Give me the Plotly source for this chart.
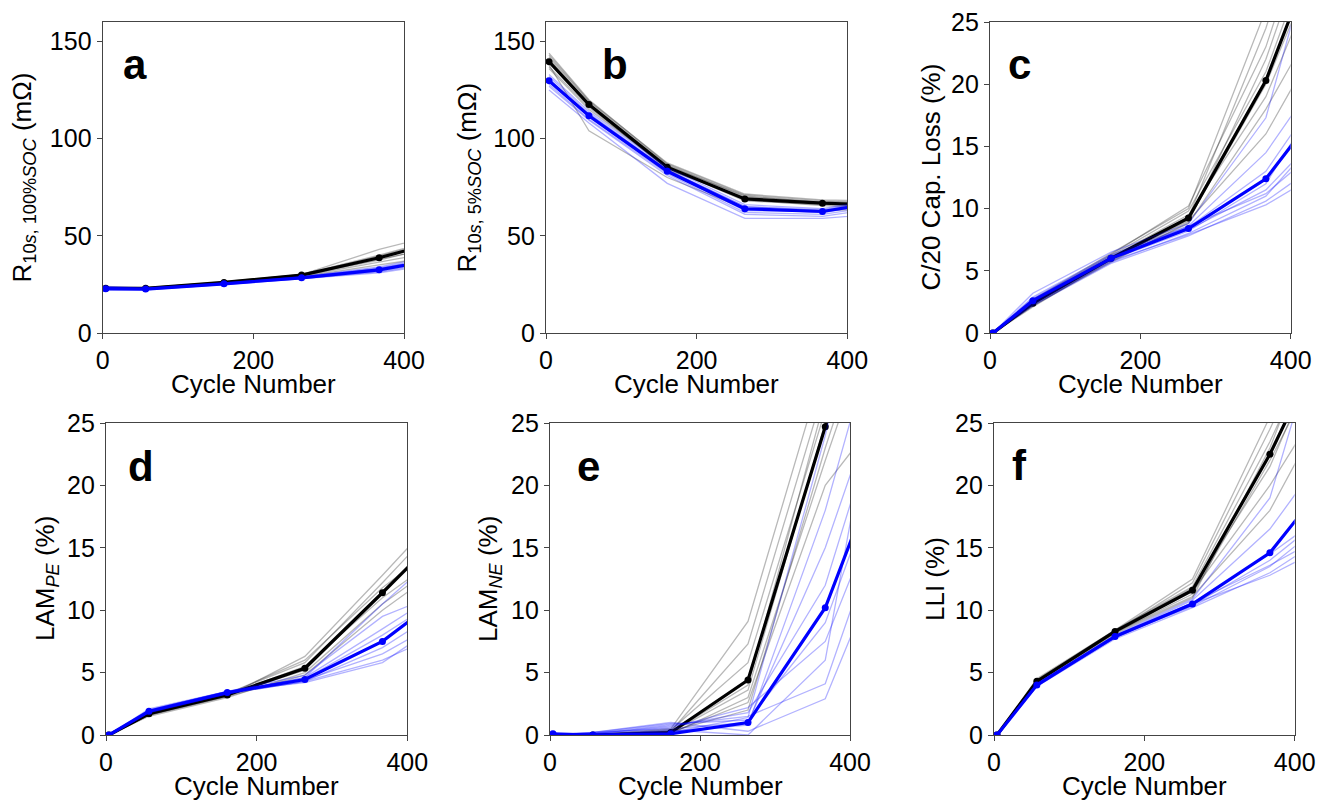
import plotly.graph_objects as go

W, H = 1319, 801
BODY_OFFSET = 0  # page margin removed in post_script below

# ---------------- data ----------------
cycles = [4, 57, 161, 264, 367, 470]

# panel a: R10s, 100% SOC (mOhm)
a_black_mean = [23.0, 23.0, 26.0, 29.8, 38.7, 49.3]
a_blue_mean = [22.8, 22.6, 25.3, 28.4, 32.5, 39.7]
a_black_cells = [
    [23.6, 23.3, 26.2, 30.0, 43.0, 53.0],
    [22.5, 22.8, 25.8, 29.5, 37.5, 47.0],
    [23.2, 23.0, 26.1, 29.9, 39.5, 50.5],
    [22.9, 22.7, 25.9, 29.6, 38.0, 46.0],
    [23.4, 23.1, 26.4, 30.2, 40.0, 51.0],
    [22.7, 22.9, 25.7, 29.3, 36.5, 43.5],
    [23.1, 23.3, 26.0, 29.8, 38.8, 48.5],
    [22.6, 22.6, 25.6, 29.0, 35.0, 41.0],
]
a_blue_cells = [
    [23.8, 23.0, 25.6, 28.8, 33.5, 41.0],
    [22.0, 22.2, 25.0, 28.0, 31.5, 38.0],
    [23.2, 22.8, 25.4, 28.5, 33.0, 40.5],
    [22.5, 22.4, 25.1, 28.2, 32.0, 38.5],
    [24.0, 23.2, 25.8, 29.0, 34.0, 42.0],
    [22.3, 22.3, 24.9, 27.9, 31.0, 37.0],
    [23.0, 22.7, 25.3, 28.4, 32.8, 39.5],
    [22.8, 22.5, 25.2, 28.6, 33.2, 40.0],
]

# panel b: R10s, 5% SOC (mOhm)
b_black_mean = [139.6, 117.5, 85.3, 69.0, 66.8, 65.5]
b_blue_mean = [129.8, 111.8, 83.2, 63.9, 62.5, 69.0]
b_black_cells = [
    [144, 120, 87, 71, 68, 66],
    [142, 119, 86.5, 70, 67.5, 67],
    [138, 104, 80, 64, 63, 64],
    [141, 118, 86, 70.5, 67, 66.5],
    [137, 116, 85, 68, 66, 65],
    [140, 117, 84, 69.5, 66.5, 66],
    [136, 115, 85.5, 68.5, 65.5, 64],
    [143, 119.5, 87.5, 71.5, 68.5, 67.5],
]
b_blue_cells = [
    [125, 108, 77, 59, 59, 62],
    [132, 113, 84, 65, 63, 70],
    [130, 112, 83.5, 64, 62, 68],
    [128, 110, 82, 62, 61, 67],
    [133, 114, 85, 66, 64, 71],
    [131, 111, 83, 63, 62.5, 69],
    [127, 109.5, 81, 61, 60, 66],
    [129, 112.5, 84, 65, 63.5, 70.5],
]

# panel c: C/20 capacity loss (%)
c_black_mean = [0, 2.4, 6.0, 9.25, 20.3, 36.5]
c_blue_mean = [0, 2.6, 6.0, 8.4, 12.4, 20.5]
c_black_cells = [
    [0, 2.1, 5.9, 9.0, 16.0, 27.0],
    [0, 2.2, 5.8, 8.8, 18.0, 29.0],
    [0, 2.3, 6.1, 9.5, 19.0, 34.0],
    [0, 2.5, 6.2, 9.8, 21.0, 38.0],
    [0, 2.6, 6.3, 10.2, 23.0, 42.0],
    [0, 2.3, 6.0, 9.3, 24.5, 44.0],
    [0, 2.4, 5.9, 9.1, 20.0, 35.0],
    [0, 2.7, 6.4, 10.0, 26.0, 46.0],
    [0, 2.2, 5.7, 8.9, 22.0, 40.0],
]
c_blue_cells = [
    [0, 3.2, 6.5, 8.8, 17.3, 40.0],
    [0, 2.9, 6.3, 8.6, 14.5, 23.5],
    [0, 2.8, 6.2, 8.5, 13.0, 22.0],
    [0, 2.5, 5.9, 8.2, 12.0, 22.0],
    [0, 2.3, 5.7, 8.0, 11.0, 18.0],
    [0, 2.7, 6.1, 8.3, 11.5, 18.0],
    [0, 2.4, 5.8, 7.9, 10.3, 14.0],
    [0, 2.6, 6.0, 8.6, 11.2, 16.5],
    [0, 2.2, 5.6, 7.8, 10.6, 15.0],
]

# panel d: LAM_PE (%)
d_black_mean = [0, 1.7, 3.2, 5.35, 11.4, 17.6]
d_blue_mean = [0, 1.9, 3.4, 4.45, 7.5, 12.2]
d_black_cells = [
    [0, 1.6, 3.1, 6.3, 12.8, 19.5],
    [0, 1.7, 3.3, 5.8, 12.2, 18.8],
    [0, 1.5, 3.0, 5.0, 10.5, 15.0],
    [0, 1.8, 3.2, 5.5, 11.0, 15.5],
    [0, 1.6, 3.1, 4.8, 10.0, 14.5],
    [0, 1.7, 3.2, 5.2, 11.5, 17.5],
    [0, 1.6, 3.3, 6.0, 11.8, 16.5],
]
d_blue_cells = [
    [0, 2.0, 3.5, 4.8, 9.5, 12.0],
    [0, 1.9, 3.4, 4.6, 8.5, 12.5],
    [0, 2.1, 3.5, 4.5, 8.0, 12.0],
    [0, 1.8, 3.3, 4.3, 7.0, 11.0],
    [0, 1.9, 3.4, 4.4, 6.5, 10.0],
    [0, 2.0, 3.5, 4.2, 5.8, 10.0],
    [0, 1.8, 3.3, 4.3, 6.0, 8.8],
    [0, 1.9, 3.4, 4.6, 10.5, 16.0],
]

# panel e: LAM_NE (%)
e_black_mean = [0, 0, 0.2, 4.4, 24.7, 45.0]
e_blue_mean = [0.1, 0, 0.1, 1.0, 10.2, 26.4]
e_black_cells = [
    [0, 0, 0.5, 9.1, 30, 50],
    [0, 0, 0.3, 7.3, 28, 48],
    [0, 0, 0.4, 5.8, 26, 46],
    [0, 0, 0.2, 3.6, 25, 45],
    [0, 0, 0.1, 3.0, 22, 40],
    [0, 0, 0.2, 2.6, 20, 28],
    [0, 0, 0.3, 2.0, 23, 42],
    [0, 0, 0.2, 4.0, 27, 47],
]
e_blue_cells = [
    [0, 0.2, 1.0, 0.3, 2.9, 18.0],
    [0, 0.1, 0.8, 1.5, 4.1, 22.0],
    [0, 0.1, 0.6, 2.2, 7.5, 23.0],
    [0, 0.2, 0.9, 1.2, 9.0, 26.0],
    [0, 0.0, 0.4, 0.0, 6.0, 40.0],
    [0, 0.1, 0.7, 1.8, 12.0, 32.0],
    [0, 0.2, 0.5, 1.0, 15.0, 33.0],
    [0, 0.1, 0.3, 0.8, 18.0, 40.0],
    [0, 0.0, 0.2, 1.4, 24.0, 50.0],
]

# panel f: LLI (%)
f_black_mean = [0, 4.3, 8.3, 11.6, 22.5, 35.4]
f_blue_mean = [0, 4.0, 7.9, 10.5, 14.6, 22.4]
f_black_cells = [
    [0, 4.4, 8.4, 12.5, 25.5, 40],
    [0, 4.3, 8.3, 12.2, 24.5, 38],
    [0, 4.5, 8.4, 11.9, 23.5, 37],
    [0, 4.2, 8.2, 11.3, 22.0, 34],
    [0, 4.3, 8.2, 11.1, 18.0, 29.5],
    [0, 4.4, 8.3, 11.5, 20.0, 30.0],
    [0, 4.3, 8.3, 11.8, 21.5, 36],
    [0, 4.2, 8.1, 11.0, 23.0, 39],
]
f_blue_cells = [
    [0, 4.1, 8.0, 10.9, 19.0, 40.0],
    [0, 4.0, 7.9, 10.8, 16.5, 25.0],
    [0, 4.0, 7.8, 10.6, 14.5, 19.0],
    [0, 3.9, 7.8, 10.4, 14.0, 19.0],
    [0, 4.1, 7.9, 10.3, 13.5, 18.5],
    [0, 3.9, 7.7, 10.2, 13.0, 17.0],
    [0, 4.0, 7.8, 10.5, 12.8, 16.0],
    [0, 4.0, 7.9, 10.6, 13.6, 17.0],
]

panel_letters = ["a", "b", "c", "d", "e", "f"]
y_titles = [
    "R<sub>10<i>s</i>, 100%<i>SOC</i></sub> (mΩ)",
    "R<sub>10<i>s</i>, 5%<i>SOC</i></sub> (mΩ)",
    "C/20 Cap. Loss (%)",
    "LAM<sub><i>PE</i></sub> (%)",
    "LAM<sub><i>NE</i></sub> (%)",
    "LLI (%)",
]
x_title = "Cycle Number"
x_ticks = [0, 200, 400]
y_ticks_res = [0, 50, 100, 150]
y_ticks_pct = [0, 5, 10, 15, 20, 25]

panels = [
    (a_black_cells, a_blue_cells, a_black_mean, a_blue_mean),
    (b_black_cells, b_blue_cells, b_black_mean, b_blue_mean),
    (c_black_cells, c_blue_cells, c_black_mean, c_blue_mean),
    (d_black_cells, d_blue_cells, d_black_mean, d_blue_mean),
    (e_black_cells, e_blue_cells, e_black_mean, e_blue_mean),
    (f_black_cells, f_blue_cells, f_black_mean, f_blue_mean),
]

# ---------------- layout geometry (page pixels) ----------------
x_px = [(102.7, 404.0), (546.0, 847.3), (990.0, 1290.7),
        (106.0, 407.3), (550.0, 850.0), (994.0, 1294.7)]
y_px = [(22, 333)] * 3 + [(423, 735)] * 3
ytitle_cx = [23, 468, 930, 46, 489, 935]
letter_pos = [(121, 80), (600, 80), (1006, 80), (126, 481), (575, 481), (1010, 480)]


def px(x):
    return (x - BODY_OFFSET) / W


def py(y):
    return 1 - (y - BODY_OFFSET) / H


FONT = "Liberation Sans, Arial, sans-serif"
AX_COLOR = "#444444"
BLACK = "#000000"
BLUE = "#0000ff"
GRAY_T = "rgba(0,0,0,0.28)"
BLUE_T = "rgba(0,0,255,0.30)"

fig = go.Figure()
layout = dict(
    width=W, height=H,
    margin=dict(l=0, r=0, t=0, b=0, autoexpand=False),
    paper_bgcolor="white", plot_bgcolor="white",
    showlegend=False,
    font=dict(family=FONT, size=25, color="black"),
)

annotations = []
for i, (bcells, ucells, bmean, umean) in enumerate(panels):
    n = i + 1
    xa = "x" if n == 1 else f"x{n}"
    ya = "y" if n == 1 else f"y{n}"
    for cell in bcells:
        fig.add_trace(go.Scatter(x=cycles, y=cell, mode="lines", xaxis=xa, yaxis=ya,
                                 line=dict(color=GRAY_T, width=1.3), hoverinfo="skip"))
    fig.add_trace(go.Scatter(x=cycles, y=bmean, mode="lines+markers", xaxis=xa, yaxis=ya,
                             line=dict(color=BLACK, width=3.2),
                             marker=dict(color=BLACK, size=7)))
    for cell in ucells:
        fig.add_trace(go.Scatter(x=cycles, y=cell, mode="lines", xaxis=xa, yaxis=ya,
                                 line=dict(color=BLUE_T, width=1.3), hoverinfo="skip"))
    fig.add_trace(go.Scatter(x=cycles, y=umean, mode="lines+markers", xaxis=xa, yaxis=ya,
                             line=dict(color=BLUE, width=3.2),
                             marker=dict(color=BLUE, size=7)))

    x0, x1 = x_px[i]
    y0, y1 = y_px[i]
    xkey = "xaxis" if n == 1 else f"xaxis{n}"
    ykey = "yaxis" if n == 1 else f"yaxis{n}"
    is_res = i < 2
    layout[xkey] = dict(
        domain=[px(x0), px(x1)], anchor=ya, range=[0, 400], automargin=False,
        tickvals=x_ticks, ticks="outside", ticklen=5, tickcolor=AX_COLOR,
        ticklabeloverflow="allow",
        showline=True, linecolor=AX_COLOR, linewidth=1.3, mirror=True,
        showgrid=False, zeroline=False, tickfont=dict(size=25, color="black"),
    )
    layout[ykey] = dict(
        domain=[py(y1), py(y0)], anchor=xa, automargin=False,
        range=[0, 160] if is_res else [0, 25],
        tickvals=y_ticks_res if is_res else y_ticks_pct,
        ticks="outside", ticklen=5, tickcolor=AX_COLOR,
        ticklabeloverflow="allow",
        showline=True, linecolor=AX_COLOR, linewidth=1.3, mirror=True,
        showgrid=False, zeroline=False, tickfont=dict(size=25, color="black"),
    )
    # x title
    annotations.append(dict(
        text=x_title, xref="paper", yref="paper",
        x=px((x0 + x1) / 2), y=py(y1 + 51),
        xanchor="center", yanchor="middle", showarrow=False,
        font=dict(size=26, color="black", family=FONT)))
    # y title
    annotations.append(dict(
        text=y_titles[i], xref="paper", yref="paper",
        x=px(ytitle_cx[i]), y=py((y0 + y1) / 2),
        xanchor="center", yanchor="middle", textangle=-90, showarrow=False,
        font=dict(size=26, color="black", family=FONT)))
    # panel letter
    lx, lb = letter_pos[i]
    annotations.append(dict(
        text=f"<b>{panel_letters[i]}</b>", xref="paper", yref="paper",
        x=px(lx), y=py(lb - 15),
        xanchor="left", yanchor="middle", showarrow=False,
        font=dict(size=42, color="black", family=FONT)))

layout["annotations"] = annotations
fig.update_layout(**layout)
fig.write_html(
    "out.html",
    config={"displayModeBar": False},
    post_script="document.body.style.margin='0px';"
                "document.documentElement.style.overflow='hidden';",
)
